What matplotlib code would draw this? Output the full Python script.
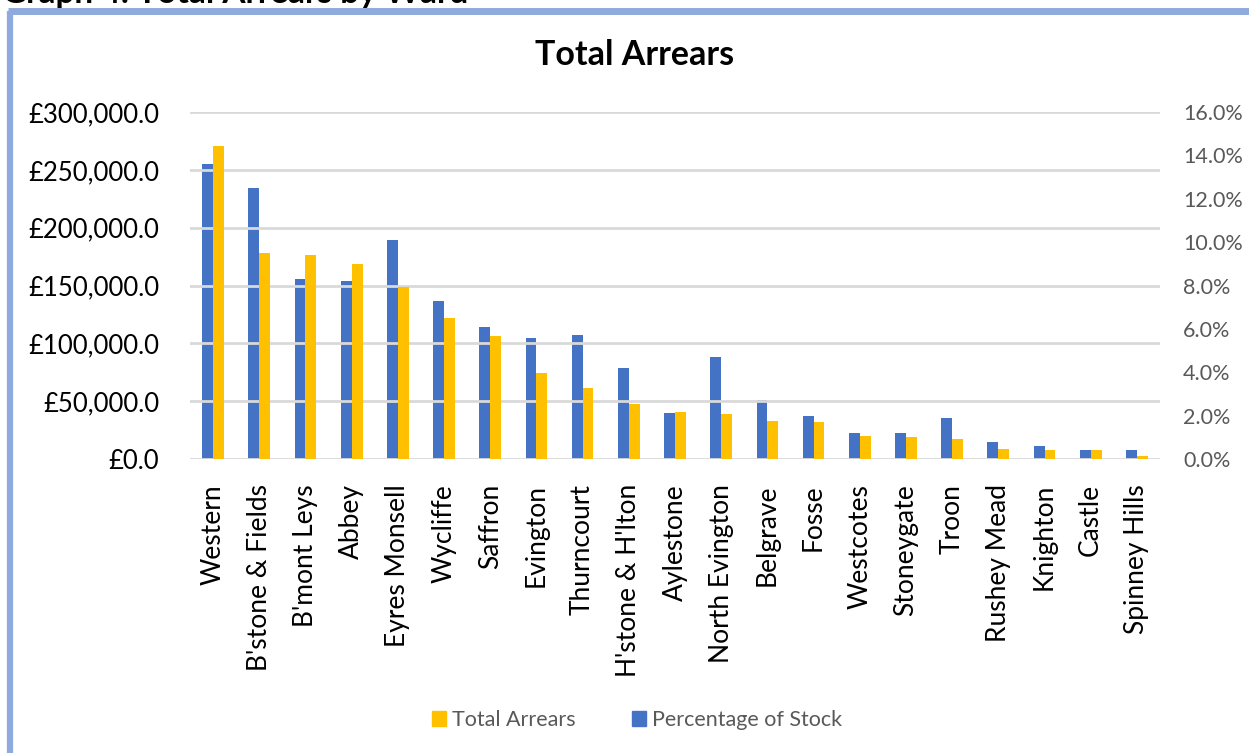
import matplotlib
matplotlib.use('Agg')
import matplotlib.pyplot as plt
import matplotlib.ticker as mticker
from matplotlib.patches import Patch
import numpy as np

plt.rcParams['font.family'] = ['Lato', 'DejaVu Sans']

wards = ['Western', "B'stone & Fields", "B'mont Leys", 'Abbey', 'Eyres Monsell',
         'Wycliffe', 'Saffron', 'Evington', 'Thurncourt', "H'stone & H'lton",
         'Aylestone', 'North Evington', 'Belgrave', 'Fosse', 'Westcotes',
         'Stoneygate', 'Troon', 'Rushey Mead', 'Knighton', 'Castle',
         'Spinney Hills']
# total arrears (GBP)
arrears = [270500, 178000, 176000, 169000, 149000, 122000, 106000, 74000,
           61000, 47500, 41000, 39000, 33000, 31700, 19600, 18800, 17300,
           8400, 8000, 7800, 2600]
# percentage of stock (%)
pct_stock = [13.6, 12.5, 8.3, 8.2, 10.1, 7.3, 6.1, 5.6, 5.7, 4.2, 2.1, 4.7,
             2.7, 2.0, 1.2, 1.2, 1.9, 0.8, 0.6, 0.4, 0.4]

blue = '#4472C4'
yellow = '#FFC000'
grid_col = '#D9D9D9'

fig = plt.figure(figsize=(12.49, 7.53), dpi=100)
W, H = 1249, 753

# frame border (light blue) and cut-off caption
fig.add_artist(plt.Line2D([10 / W, 10 / W], [0, 1 - 11 / H], color='#8FAADC',
                          lw=4.5, solid_capstyle='butt'))
fig.add_artist(plt.Line2D([8 / W, 1], [1 - 11 / H, 1 - 11 / H], color='#8FAADC',
                          lw=5, solid_capstyle='butt'))
fig.text(2 / W, 1 + 6 / H, 'Graph 4: Total Arrears by Ward', fontsize=24,
         fontweight='bold', ha='left', va='center')

ax = fig.add_axes([190 / W, 1 - 459 / H, 970 / W, 347 / H])
ax2 = ax.twinx()

n = len(wards)
x = np.arange(n)
bw = 0.235
ax2.bar(x - bw / 2, pct_stock, width=bw, color=blue, zorder=3)
ax.bar(x + bw / 2, arrears, width=bw, color=yellow, zorder=3)

ax.set_zorder(ax2.get_zorder() + 1)
ax.patch.set_visible(False)

ax.set_xlim(-0.5, n - 0.5)
ax.set_ylim(0, 300000)
ax2.set_ylim(0, 16)
ax.set_yticks(np.arange(0, 300001, 50000))
ax2.set_yticks(np.arange(0, 16.1, 2))
ax.yaxis.set_major_formatter(mticker.FuncFormatter(lambda v, p: '£{:,.1f}'.format(v)))
ax2.yaxis.set_major_formatter(mticker.FuncFormatter(lambda v, p: '{:.1f}%'.format(v)))

for a in (ax, ax2):
    for s in a.spines.values():
        s.set_visible(False)
ax.yaxis.grid(True, color=grid_col, lw=2, zorder=0)
ax.set_axisbelow(True)

ax.tick_params(axis='y', length=0, labelsize=18.5, labelcolor='black', pad=22)
ax2.tick_params(axis='y', length=0, labelsize=15.5, labelcolor='#595959', pad=16.5)
ax.set_xticks(x)
ax.set_xticklabels(wards, rotation=90, fontsize=19, va='top', ha='center')
ax.tick_params(axis='x', length=0, pad=18)

fig.text(635 / W, 1 - 55 / H, 'Total Arrears', fontsize=24.5, fontweight='bold',
         ha='center', va='center')

handles = [Patch(color=yellow, label='Total Arrears'),
           Patch(color=blue, label='Percentage of Stock')]
fig.legend(handles=handles, loc='center', bbox_to_anchor=(637 / W, 1 - 720 / H),
           ncol=2, frameon=False, fontsize=15.5, labelcolor='#595959',
           handlelength=0.65, handleheight=0.65, handletextpad=0.3,
           columnspacing=2.6)

fig.savefig('out.png', dpi=100, facecolor='white')
